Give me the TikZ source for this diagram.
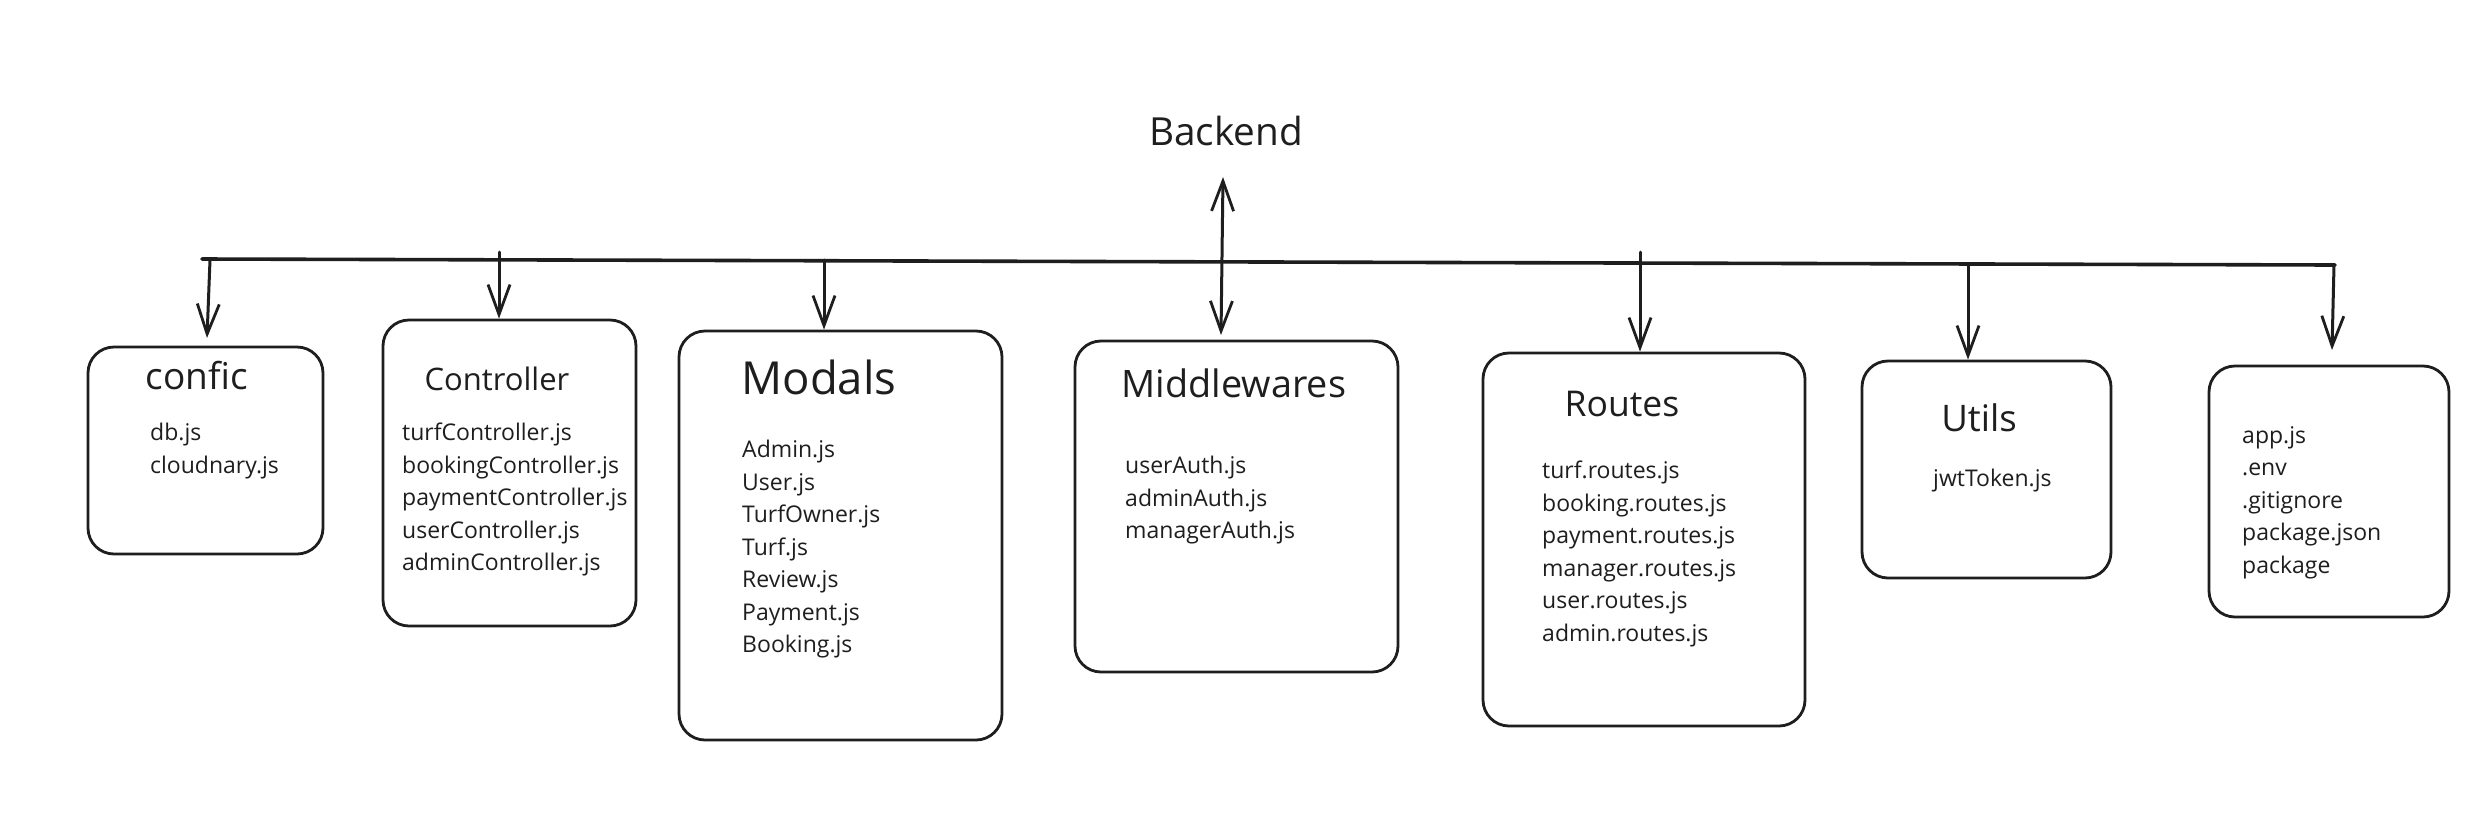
\documentclass[tikz,border=0pt]{standalone}
\usepackage{fontspec}
\setmainfont{Open Sans}
\usetikzlibrary{arrows.meta}
\definecolor{ink}{HTML}{1E1E1E}
\tikzset{
  folder/.style={draw=ink, line width=2.8pt, rounded corners=26pt, inner sep=0pt},
  ttl/.style={inner sep=0pt, text=ink, anchor=center},
  files/.style={inner sep=0pt, text=ink, anchor=north west, align=left,
    font=\fontsize{23}{32.5}\selectfont},
  barb/.tip={Straight Barb[length=30pt,width=22pt,line width=2.8pt]},
  arr/.style={draw=ink, line width=3pt, line cap=round, -barb},
  darr/.style={draw=ink, line width=3pt, line cap=round, barb-barb},
  bus/.style={draw=ink, line width=3.6pt, line cap=round}
}
\begin{document}
\begin{tikzpicture}[x=1pt,y=-1pt]
\useasboundingbox (0,0) rectangle (2474,820);
\fill[white] (0,0) rectangle (2474,820);

% title
\node[ttl, font=\fontsize{38.7}{44}\selectfont] (backend) at (1226,131) {Backend};

% boxes
\node[folder, minimum width=235pt, minimum height=207pt] (conf) at (205.5,450.5) {};
\node[folder, minimum width=253pt, minimum height=306pt] (ctrl) at (509.5,473) {};
\node[folder, minimum width=323pt, minimum height=409pt] (mod) at (840.5,535.5) {};
\node[folder, minimum width=323pt, minimum height=331pt] (mid) at (1236.5,506.5) {};
\node[folder, minimum width=322pt, minimum height=373pt] (rt) at (1644,539.5) {};
\node[folder, minimum width=249pt, minimum height=217pt] (ut) at (1986.5,469.5) {};
\node[folder, minimum width=240pt, minimum height=251pt] (rootf) at (2329,491.5) {};

% titles
\node[ttl, font=\fontsize{37}{42}\selectfont] (confT) at (197,376) {confic};
\node[ttl, font=\fontsize{31}{36}\selectfont] (ctrlT) at (497,379) {Controller};
\node[ttl, font=\fontsize{45.5}{50}\selectfont] (modT) at (819,377) {Modals};
\node[ttl, font=\fontsize{37.8}{42}\selectfont] (midT) at (1234,383) {Middlewares};
\node[ttl, font=\fontsize{35.5}{40}\selectfont] (rtT) at (1622,404) {Routes};
\node[ttl, font=\fontsize{36.6}{40}\selectfont] (utT) at (1979,418) {Utils};

% file lists
\node[files] (confL) at (150,423) {db.js\\cloudnary.js};
\node[files] (ctrlL) at (402,423) {turfController.js\\bookingController.js\\paymentController.js\\userController.js\\adminController.js};
\node[files] (modL) at (742,440) {Admin.js\\User.js\\TurfOwner.js\\Turf.js\\Review.js\\Payment.js\\Booking.js};
\node[files] (midL) at (1125,456) {userAuth.js\\adminAuth.js\\managerAuth.js};
\node[files] (rtL) at (1542,461) {turf.routes.js\\booking.routes.js\\payment.routes.js\\manager.routes.js\\user.routes.js\\admin.routes.js};
\node[files] (utL) at (1933,469) {jwtToken.js};
\node[files] (rootL) at (2242,426) {app.js\\.env\\.gitignore\\package.json\\package};

% bus line
\coordinate (busL) at (202,259);
\coordinate (busR) at (2335,265);
\draw[bus] (busL) -- (busR);

% drop points on the bus
\coordinate (b1) at (210,260);
\coordinate (b2) at (499,252);
\coordinate (b3) at (824,260);
\coordinate (b5) at (1640,252);
\coordinate (b6) at (1968,264);
\coordinate (b7) at (2334,265);
\coordinate (upTip) at (1223,177);
\coordinate (downTip) at (1221,335);
\coordinate (t1) at (207,338);
\coordinate (t7) at (2332,350);

\draw[arr] (b1) -- (t1);
\draw[arr] (b2) -- (b2 |- ctrl.north);
\draw[arr] (b3) -- (b3 |- mod.north);
\draw[darr] (upTip) -- (downTip);
\draw[arr] (b5) -- (b5 |- rt.north);
\draw[arr] (b6) -- (b6 |- ut.north);
\draw[arr] (b7) -- (t7);
\end{tikzpicture}
\end{document}
